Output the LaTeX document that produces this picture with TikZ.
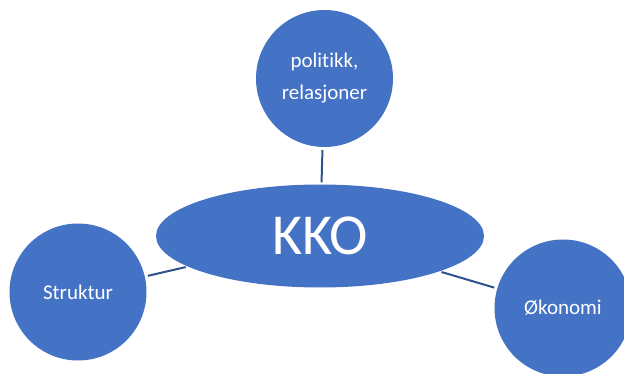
\documentclass[tikz,border=0pt]{standalone}
\usepackage{fontspec}
\setmainfont[Ligatures=NoCommon]{Carlito}
\usetikzlibrary{shapes.geometric}
\definecolor{shapefill}{HTML}{4472C4}
\definecolor{linkblue}{HTML}{2F528F}
\begin{document}
\begin{tikzpicture}[x=1pt,y=-1pt,
  topic/.style={circle, fill=shapefill, minimum size=137pt, inner sep=0pt,
    text=white, font=\fontsize{21}{32}\selectfont, align=center},
  hub/.style={ellipse, fill=shapefill, minimum width=328pt, minimum height=103pt,
    inner sep=0pt, text=white, font=\fontsize{58}{58}\selectfont},
  link/.style={draw=linkblue, line width=2pt, shorten <=3pt, shorten >=2pt}]
\useasboundingbox (0,0) rectangle (624,374);
% hub and the three topics around it
\node[hub] (kko) at (320,236) {KKO};
\node[topic] (pol) at (324.5,78.5) {politikk,\\relasjoner};
\node[topic] (str) at (78,292) {Struktur};
\node[topic] (oko) at (563,308) {Økonomi};
% connectors from each topic to the hub
\draw[link] (pol) -- (kko);
\draw[link] (str) -- (kko);
\draw[link] (oko) -- (kko);
\end{tikzpicture}
\end{document}
